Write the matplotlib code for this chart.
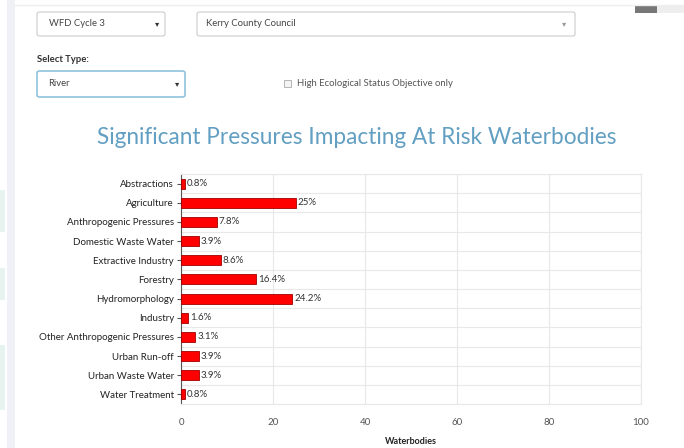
import matplotlib
matplotlib.use("Agg")
import matplotlib.pyplot as plt
from matplotlib.patches import Rectangle, FancyBboxPatch
import numpy as np

categories = [
    "Abstractions", "Agriculture", "Anthropogenic Pressures", "Domestic Waste Water",
    "Extractive Industry", "Forestry", "Hydromorphology", "Industry",
    "Other Anthropogenic Pressures", "Urban Run-off", "Urban Waste Water", "Water Treatment",
]
percent = [0.8, 25, 7.8, 3.9, 8.6, 16.4, 24.2, 1.6, 3.1, 3.9, 3.9, 0.8]
x_ticks = [0, 20, 40, 60, 80, 100]

W, H = 684, 448
fig = plt.figure(figsize=(W / 100, H / 100), dpi=100)
fig.patch.set_facecolor("white")
plt.rcParams["font.family"] = ["Lato", "DejaVu Sans"]


def px(x, y):
    return x / W, 1 - y / H


def box(x0, y0, x1, y1, ec="#cccccc", lw=0.8, fc="white"):
    fig.patches.append(FancyBboxPatch(
        (x0 / W, 1 - y1 / H), (x1 - x0) / W, (y1 - y0) / H,
        boxstyle="round,pad=0,rounding_size=0.004", transform=fig.transFigure,
        fc=fc, ec=ec, lw=lw, zorder=1))


# page chrome: side strip and top rule
fig.patches.append(Rectangle(px(7, 448), 8 / W, 448 / H, transform=fig.transFigure,
                             fc="#eff1f6", ec="none", zorder=0))
fig.lines.append(plt.Line2D([15 / W, 1], [1 - 5 / H] * 2, transform=fig.transFigure,
                            color="#eeeeee", lw=1))
fig.patches.append(Rectangle(px(635, 13), 22 / W, 7 / H, transform=fig.transFigure,
                             fc="#777777", ec="none"))
fig.patches.append(Rectangle(px(657, 13), 27 / W, 7 / H, transform=fig.transFigure,
                             fc="#eeeeee", ec="none"))
for (y0, y1) in [(190, 232), (268, 300), (345, 410)]:
    fig.patches.append(Rectangle(px(0, y1), 5 / W, (y1 - y0) / H, transform=fig.transFigure,
                                 fc="#e6f3ef", ec="none", zorder=0))

# filter controls
box(37, 12, 165, 36)
fig.text(*px(49, 24), "WFD Cycle 3", fontsize=6.8, va="center", color="#444444")
fig.text(*px(155, 24), "\u25be", fontsize=6, va="center", color="#333333")
box(197, 12, 575, 36)
fig.text(*px(206, 24), "Kerry County Council", fontsize=6.8, va="center", color="#444444")
fig.text(*px(562, 24), "\u25be", fontsize=6, va="center", color="#999999")
fig.text(*px(37, 60), "Select Type:", fontsize=6.8, va="center", color="#333333",
         fontweight="bold")
box(37, 71, 185, 97, ec="#8ec3dd", lw=1.2)
fig.text(*px(48, 84), "River", fontsize=6.8, va="center", color="#444444")
fig.text(*px(175, 84), "\u25be", fontsize=6, va="center", color="#333333")
fig.patches.append(Rectangle(px(284, 87), 7 / W, 7 / H, transform=fig.transFigure,
                             fc="#f4f4f4", ec="#aaaaaa", lw=0.6))
fig.text(*px(297, 83), "High Ecological Status Objective only", fontsize=6.8,
         va="center", color="#555555")

# chart title
fig.text(*px(357, 138), "Significant Pressures Impacting At Risk Waterbodies",
         fontsize=16.3, ha="center", va="center", color="#629fc2")

ax = fig.add_axes([181 / W, 1 - 404 / H, 460 / W, 230 / H])
y = np.arange(len(categories))
ax.barh(y, percent, height=0.52, color="#ff0000", edgecolor="#a00000", linewidth=0.6, zorder=3)
for yi, v in zip(y, percent):
    ax.text(v + 0.4, yi, f"{v:g}%", va="center", ha="left", fontsize=7, color="#333333")

ax.set_xlim(0, 100)
ax.set_ylim(len(categories) - 0.5, -0.5)
ax.set_xticks(x_ticks)
ax.set_xticklabels([str(t) for t in x_ticks], fontsize=7, color="#555555")
ax.set_yticks(y)
ax.set_yticklabels(categories, fontsize=7, color="#222222")
ax.set_yticks(np.arange(len(categories) + 1) - 0.5, minor=True)
ax.tick_params(axis="y", which="major", length=3, width=0.8, color="#555555", pad=2)
ax.tick_params(axis="y", which="minor", length=0)
ax.tick_params(axis="x", length=0, pad=10)
ax.grid(axis="x", color="#e8e8e8", lw=0.8, zorder=0)
ax.grid(axis="y", which="minor", color="#e8e8e8", lw=0.8, zorder=0)
for s in ["top", "right", "bottom"]:
    ax.spines[s].set_color("#e8e8e8")
    ax.spines[s].set_linewidth(0.8)
ax.spines["left"].set_color("#555555")
ax.spines["left"].set_linewidth(0.8)
ax.set_xlabel("Waterbodies", fontsize=6.5, fontweight="bold", color="#222222", labelpad=7)

fig.savefig("out.png", dpi=100)
